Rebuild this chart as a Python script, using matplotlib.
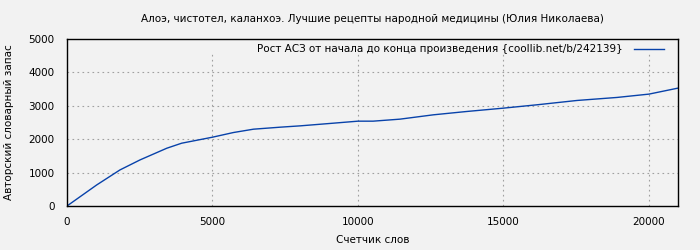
import matplotlib
matplotlib.use("Agg")
import matplotlib.pyplot as plt

words = [0, 1020, 1820, 2510, 3430, 3940, 5000, 5720, 6410, 7330, 8020, 9160,
         10000, 10520, 11440, 12590, 13740, 15000, 16150, 17530, 18900, 20000, 21000]
vocab = [0, 630, 1080, 1380, 1730, 1880, 2060, 2200, 2300, 2360, 2400, 2480,
         2540, 2540, 2600, 2730, 2830, 2930, 3030, 3160, 3250, 3350, 3530]

x_ticks = [0, 5000, 10000, 15000, 20000]
y_ticks = [0, 1000, 2000, 3000, 4000, 5000]

title = "Алоэ, чистотел, каланхоэ. Лучшие рецепты народной медицины (Юлия Николаева)"
legend_label = "Рост АСЗ от начала до конца произведения {coollib.net/b/242139}"

bg = "#f2f2f2"
fs = 7.5
plt.rcParams["font.family"] = ["DejaVu Sans"]
plt.rcParams["font.size"] = fs

fig = plt.figure(figsize=(7, 2.5), dpi=100, facecolor=bg)
ax = fig.add_axes([0.0957, 0.176, 0.873, 0.668])
ax.set_facecolor(bg)

ax.plot(words, vocab, color="#0842aa", lw=1, label=legend_label)

ax.set_xlim(0, 21000)
ax.set_ylim(0, 5000)
ax.set_xticks(x_ticks)
ax.set_yticks(y_ticks)
ax.tick_params(length=0, labelsize=fs)
ax.tick_params(axis="x", pad=8)
ax.tick_params(axis="y", pad=9)

# gnuplot-like dotted grid, vertical lines stop short of the top border
grid_style = dict(color="#a0a0a0", lw=0.8, ls=(0, (1.5, 3)))
for y in y_ticks[1:-1]:
    ax.axhline(y, zorder=0, **grid_style)
for x in x_ticks[1:]:
    ax.axvline(x, ymax=0.915, zorder=0, **grid_style)

for s in ax.spines.values():
    s.set_linewidth(1)
    s.set_color("black")

ax.set_title(title, fontsize=fs, pad=12.5)
ax.set_xlabel("Счетчик слов", fontsize=fs, labelpad=6)
ax.set_ylabel("Авторский словарный запас", fontsize=fs, labelpad=10)

ax.legend(loc="upper right", frameon=False, fontsize=fs, handlelength=2.9,
          markerfirst=False, borderaxespad=0.1, handletextpad=1.0,
          bbox_to_anchor=(0.985, 1.0))

fig.savefig("out.png", dpi=100, facecolor=bg)
